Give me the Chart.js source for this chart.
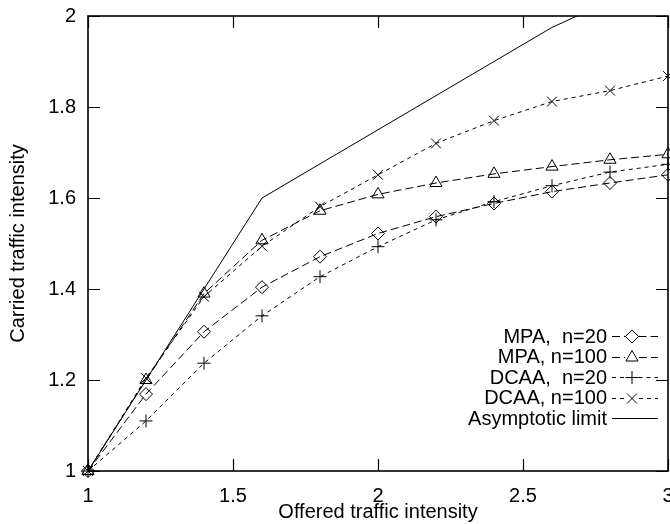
<!DOCTYPE html>
<html>
<head>
<meta charset="utf-8">
<script src="https://cdn.jsdelivr.net/npm/chart.js@4.4.1/dist/chart.umd.min.js"></script>
<style>
html,body{margin:0;padding:0;background:#fff;}
#wrap{width:670px;height:524px;}
</style>
</head>
<body>
<div id="wrap"><canvas id="c" width="670" height="524"></canvas></div>
<script>
// ---- data ----
const offered = [1.0, 1.2, 1.4, 1.6, 1.8, 2.0, 2.2, 2.4, 2.6, 2.8, 3.0];
const mpa20   = [1.0, 1.169, 1.306, 1.404, 1.471, 1.522, 1.559, 1.588, 1.614, 1.633, 1.651];
const mpa100  = [1.0, 1.200, 1.390, 1.507, 1.572, 1.608, 1.633, 1.653, 1.669, 1.684, 1.696];
const dcaa20  = [1.0, 1.110, 1.237, 1.341, 1.427, 1.493, 1.552, 1.592, 1.627, 1.657, 1.674];
const dcaa100 = [1.0, 1.204, 1.383, 1.494, 1.581, 1.651, 1.720, 1.770, 1.812, 1.836, 1.868];
const asymptotic = [1.0, 1.2, 1.4, 1.6, 1.675, 1.75, 1.825, 1.9, 1.975, 2.033, 2.09];
const seriesLabels = ['MPA,  n=20', 'MPA, n=100', 'DCAA,  n=20', 'DCAA, n=100', 'Asymptotic limit'];
const xTicks = ['1', '1.5', '2', '2.5', '3'];
const yTicks = ['1', '1.2', '1.4', '1.6', '1.8', '2'];
const xTitle = 'Offered traffic intensity';
const yTitle = 'Carried traffic intensity';

const FONT = "'Liberation Sans', Arial, Helvetica, sans-serif";
const pts = arr => arr.map((v, i) => ({x: offered[i], y: v}));

const styles = [
  {dash: [8, 4], point: 'rectRot', r: 6.5},
  {dash: [8, 4], point: 'triangle', r: 7},
  {dash: [4, 4], point: 'cross', r: 6.5},
  {dash: [4, 4], point: 'crossRot', r: 7},
  {dash: [], point: false, r: 0}
];
const values = [mpa20, mpa100, dcaa20, dcaa100, asymptotic];

const datasets = values.map((v, i) => ({
  label: seriesLabels[i],
  data: pts(v),
  borderColor: '#000',
  backgroundColor: 'rgba(0,0,0,0)',
  borderWidth: 1,
  borderDash: styles[i].dash,
  pointStyle: styles[i].point,
  pointRadius: styles[i].r,
  pointBorderWidth: 1,
  pointBorderColor: '#000',
  pointBackgroundColor: 'rgba(0,0,0,0)',
  tension: 0,
  fill: false,
  clip: i === 4 ? 0 : false
}));

const frame = {
  id: 'frame',
  beforeDraw(chart) {
    const ctx = chart.ctx;
    ctx.save();
    ctx.fillStyle = '#fff';
    ctx.fillRect(0, 0, chart.width, chart.height);
    ctx.restore();
  },
  afterDatasetsDraw(chart) {
    const {ctx, chartArea: a, scales} = chart;
    ctx.save();
    ctx.strokeStyle = '#000';
    ctx.lineWidth = 1.2;
    ctx.setLineDash([]);
    const tl = 12;
    scales.x.ticks.forEach(t => {
      const px = Math.round(scales.x.getPixelForValue(t.value)) + 0.5;
      ctx.beginPath();
      ctx.moveTo(px, a.bottom); ctx.lineTo(px, a.bottom - tl);
      ctx.moveTo(px, a.top); ctx.lineTo(px, a.top + tl);
      ctx.stroke();
    });
    scales.y.ticks.forEach(t => {
      const py = Math.round(scales.y.getPixelForValue(t.value)) + 0.5;
      ctx.beginPath();
      ctx.moveTo(a.left, py); ctx.lineTo(a.left + tl, py);
      ctx.moveTo(a.right, py); ctx.lineTo(a.right - tl, py);
      ctx.stroke();
    });
    ctx.lineWidth = 1.6;
    ctx.strokeRect(a.left, a.top, a.right - a.left, a.bottom - a.top);

    // legend
    ctx.font = '20px ' + FONT;
    ctx.textAlign = 'right';
    ctx.textBaseline = 'middle';
    const textRight = 607, x0 = 612, x1 = 658, xm = 632;
    chart.data.datasets.forEach((ds, i) => {
      const y = 336 + i * 20.5;
      const yl = Math.round(y) + 0.5;
      ctx.fillStyle = '#000';
      ctx.fillText(ds.label, textRight, y + 1);
      ctx.lineWidth = 1;
      ctx.setLineDash(ds.borderDash);
      ctx.beginPath();
      if (ds.pointStyle) {
        ctx.moveTo(x0, yl); ctx.lineTo(xm - ds.pointRadius, yl);
        ctx.moveTo(xm + ds.pointRadius, yl); ctx.lineTo(x1, yl);
      } else {
        ctx.moveTo(x0, yl); ctx.lineTo(x1, yl);
      }
      ctx.stroke();
      ctx.setLineDash([]);
      if (ds.pointStyle) {
        ctx.fillStyle = 'rgba(0,0,0,0)';
        Chart.helpers.drawPoint(ctx, {pointStyle: ds.pointStyle, radius: ds.pointRadius, borderWidth: 1, rotation: 0}, xm, yl);
      }
    });
    ctx.restore();
  }
};

function fmt(list, v) {
  const s = list.find(t => Math.abs(parseFloat(t) - v) < 1e-6);
  return s === undefined ? '' : s;
}

new Chart(document.getElementById('c'), {
  type: 'line',
  data: {datasets},
  plugins: [frame],
  options: {
    responsive: false,
    devicePixelRatio: 1,
    animation: false,
    layout: {autoPadding: false, padding: {top: 16, right: 2, left: 0, bottom: 0}},
    plugins: {legend: {display: false}, tooltip: {enabled: false}},
    scales: {
      x: {
        type: 'linear', min: 1, max: 3,
        ticks: {stepSize: 0.5, color: '#000', font: {family: FONT, size: 20}, padding: 13, maxRotation: 0,
                callback: v => fmt(xTicks, v)},
        grid: {display: false, drawTicks: false},
        border: {display: false},
        title: {display: true, text: xTitle, color: '#000', font: {family: FONT, size: 20}, padding: {top: 0, bottom: 0}},
        afterFit(s) { s.height = 53; s.paddingLeft = 0; s.paddingRight = 0; }
      },
      y: {
        type: 'linear', min: 1, max: 2,
        ticks: {stepSize: 0.2, color: '#000', font: {family: FONT, size: 20}, padding: 12,
                callback: v => fmt(yTicks, v)},
        grid: {display: false, drawTicks: false},
        border: {display: false},
        title: {display: true, text: yTitle, color: '#000', font: {family: FONT, size: 20}, padding: {top: 6, bottom: 0}},
        afterFit(s) { s.width = 88; s.paddingTop = 0; s.paddingBottom = 0; }
      }
    }
  }
});
</script>
</body>
</html>
